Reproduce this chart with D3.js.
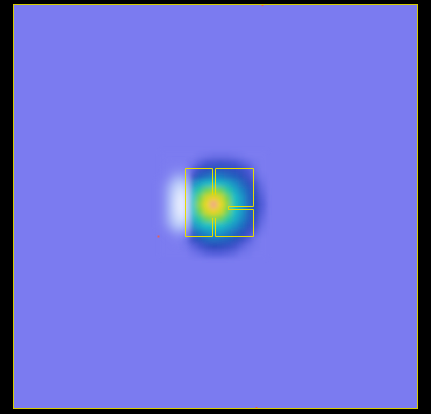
<!DOCTYPE html>
<html><head><meta charset="utf-8">
<script src="https://cdn.jsdelivr.net/npm/d3@7"></script>
<style>html,body{margin:0;padding:0;background:#000;overflow:hidden}</style>
</head><body>
<script>
// ---- data ----
// heat grid: 15 x 15 cells (rows top -> bottom), value: negative = glare (white), 0 = background, 1 = peak
const heatRow00 = [0,0,0,0,0,0.01,0.02,0.03,0.03,0.03,0.02,0.01,0,0,0];
const heatRow01 = [0,0,0,0,0.02,0.06,0.10,0.12,0.13,0.12,0.10,0.07,0.04,0.01,0];
const heatRow02 = [0,-0.01,-0.02,-0.01,0.08,0.16,0.21,0.24,0.24,0.22,0.19,0.16,0.10,0.03,0];
const heatRow03 = [0,-0.04,-0.08,-0.05,0.18,0.27,0.31,0.35,0.34,0.31,0.27,0.22,0.15,0.06,0.01];
const heatRow04 = [-0.02,-0.09,-0.16,-0.14,0.36,0.43,0.48,0.50,0.48,0.44,0.38,0.31,0.22,0.12,0.03];
const heatRow05 = [-0.03,-0.12,-0.22,-0.22,0.45,0.56,0.65,0.69,0.65,0.56,0.45,0.36,0.27,0.16,0.05];
const heatRow06 = [-0.03,-0.13,-0.26,-0.26,0.50,0.65,0.77,0.83,0.77,0.65,0.50,0.40,0.30,0.19,0.07];
const heatRow07 = [-0.03,-0.13,-0.27,-0.27,0.52,0.69,0.82,1.00,0.82,0.69,0.52,0.41,0.31,0.20,0.08];
const heatRow08 = [-0.03,-0.13,-0.26,-0.26,0.50,0.65,0.77,0.83,0.77,0.65,0.50,0.40,0.30,0.19,0.07];
const heatRow09 = [-0.03,-0.12,-0.22,-0.22,0.45,0.56,0.65,0.69,0.65,0.57,0.46,0.37,0.28,0.17,0.05];
const heatRow10 = [-0.02,-0.09,-0.16,-0.12,0.38,0.45,0.50,0.52,0.50,0.45,0.39,0.32,0.23,0.13,0.03];
const heatRow11 = [0,-0.03,-0.06,-0.03,0.28,0.34,0.38,0.41,0.40,0.36,0.31,0.24,0.16,0.07,0.01];
const heatRow12 = [0,0,-0.01,0.04,0.16,0.24,0.29,0.31,0.30,0.27,0.23,0.16,0.08,0.02,0];
const heatRow13 = [0,0,0,0.01,0.06,0.12,0.17,0.20,0.19,0.17,0.13,0.07,0.03,0.01,0];
const heatRow14 = [0,0,0,0,0.02,0.04,0.07,0.08,0.08,0.07,0.05,0.02,0.01,0,0];
const heatRows = [heatRow00,heatRow01,heatRow02,heatRow03,heatRow04,heatRow05,heatRow06,heatRow07,
                  heatRow08,heatRow09,heatRow10,heatRow11,heatRow12,heatRow13,heatRow14];

// colour scale stops
const colorStops  = [-0.3,'#f4f6ff', -0.15,'#bcd0fa', 0,'#7b7bf0', 0.1,'#4c58d6', 0.2,'#2c4cbc',
                     0.3,'#2068c0', 0.4,'#1c98c8', 0.5,'#1cc0c4', 0.58,'#30cc90', 0.66,'#74d448',
                     0.74,'#bcd82a', 0.82,'#ecd820', 0.9,'#f2a020', 0.95,'#d8401e', 1.0,'#f2a488'];
const stopValues = colorStops.filter((d,i)=>i%2===0);
const stopColors = colorStops.filter((d,i)=>i%2===1);

// region outlines (data units)
const regionA = [[172,164],[199,164],[199,232],[172,232]];
const regionB = [[202,164],[240,164],[240,202],[215,202],[215,205],[240,205],[240,232],[202,232]];
// small markers
const markers = [[145,232],[249,0.6],[243,403.5]];

// ---- layout ----
const W = 431, H = 414;
const x = d3.scaleLinear().domain([0,404]).range([13.5,417.5]);
const y = d3.scaleLinear().domain([0,404]).range([4.5,408.5]);
const gx = d3.scaleLinear().domain([0,15]).range([x(147.5), x(252.5)]);
const gy = d3.scaleLinear().domain([0,15]).range([y(147.5), y(252.5)]);
const color = d3.scaleLinear().domain(stopValues).range(stopColors).clamp(true);

const svg = d3.select('body').append('svg').attr('width',W).attr('height',H);
svg.append('rect').attr('width',W).attr('height',H).attr('fill','#000');

const defs = svg.append('defs');
defs.append('filter').attr('id','blur').attr('x','-20%').attr('y','-20%').attr('width','140%').attr('height','140%')
  .append('feGaussianBlur').attr('stdDeviation',2.4);
defs.append('filter').attr('id','glow').attr('x','-60%').attr('y','-40%').attr('width','220%').attr('height','180%')
  .append('feGaussianBlur').attr('stdDeviation',4.5);
const mask = defs.append('mask').attr('id','hole');
mask.append('rect').attr('width',W).attr('height',H).attr('fill','#fff');
mask.append('circle').attr('cx',x(200.5)).attr('cy',y(202)).attr('r',11.5).attr('fill','#000');

svg.append('rect').attr('x',x(0)).attr('y',y(0)).attr('width',x(404)-x(0)).attr('height',y(404)-y(0))
  .attr('fill','#7b7bf0');

const cells = [];
heatRows.forEach((row,j)=>row.forEach((v,i)=>cells.push({i,j,v})));
const cw = gx(1)-gx(0)+0.3, ch = gy(1)-gy(0)+0.3;
// intensity layer (glare cells drawn as background here)
svg.append('g').attr('filter','url(#blur)').selectAll('rect').data(cells).join('rect')
  .attr('x',d=>gx(d.i)).attr('y',d=>gy(d.j)).attr('width',cw).attr('height',ch)
  .attr('fill',d=>color(Math.max(0,d.v)));
// glare layer (negative cells), softer
svg.append('g').attr('filter','url(#glow)').selectAll('rect').data(cells.filter(d=>d.v<0)).join('rect')
  .attr('x',d=>gx(d.i)).attr('y',d=>gy(d.j)).attr('width',cw).attr('height',ch)
  .attr('fill',d=>color(d.v));

const line = d3.line().x(d=>x(d[0])).y(d=>y(d[1]));
const outl = svg.append('g').attr('mask','url(#hole)').attr('fill','none').attr('stroke','#e6dc00').attr('stroke-width',1);
[regionA, regionB].forEach(p=>outl.append('path').attr('d',line(p)+'Z'));

svg.append('g').selectAll('rect').data(markers).join('rect')
  .attr('x',d=>x(d[0])-1).attr('y',d=>y(d[1])-1).attr('width',2).attr('height',2).attr('fill','#e06060');

svg.append('rect').attr('x',x(0)).attr('y',y(0)).attr('width',x(404)-x(0)).attr('height',y(404)-y(0))
  .attr('fill','none').attr('stroke','#d6cc00').attr('stroke-width',1);
</script>
</body></html>
